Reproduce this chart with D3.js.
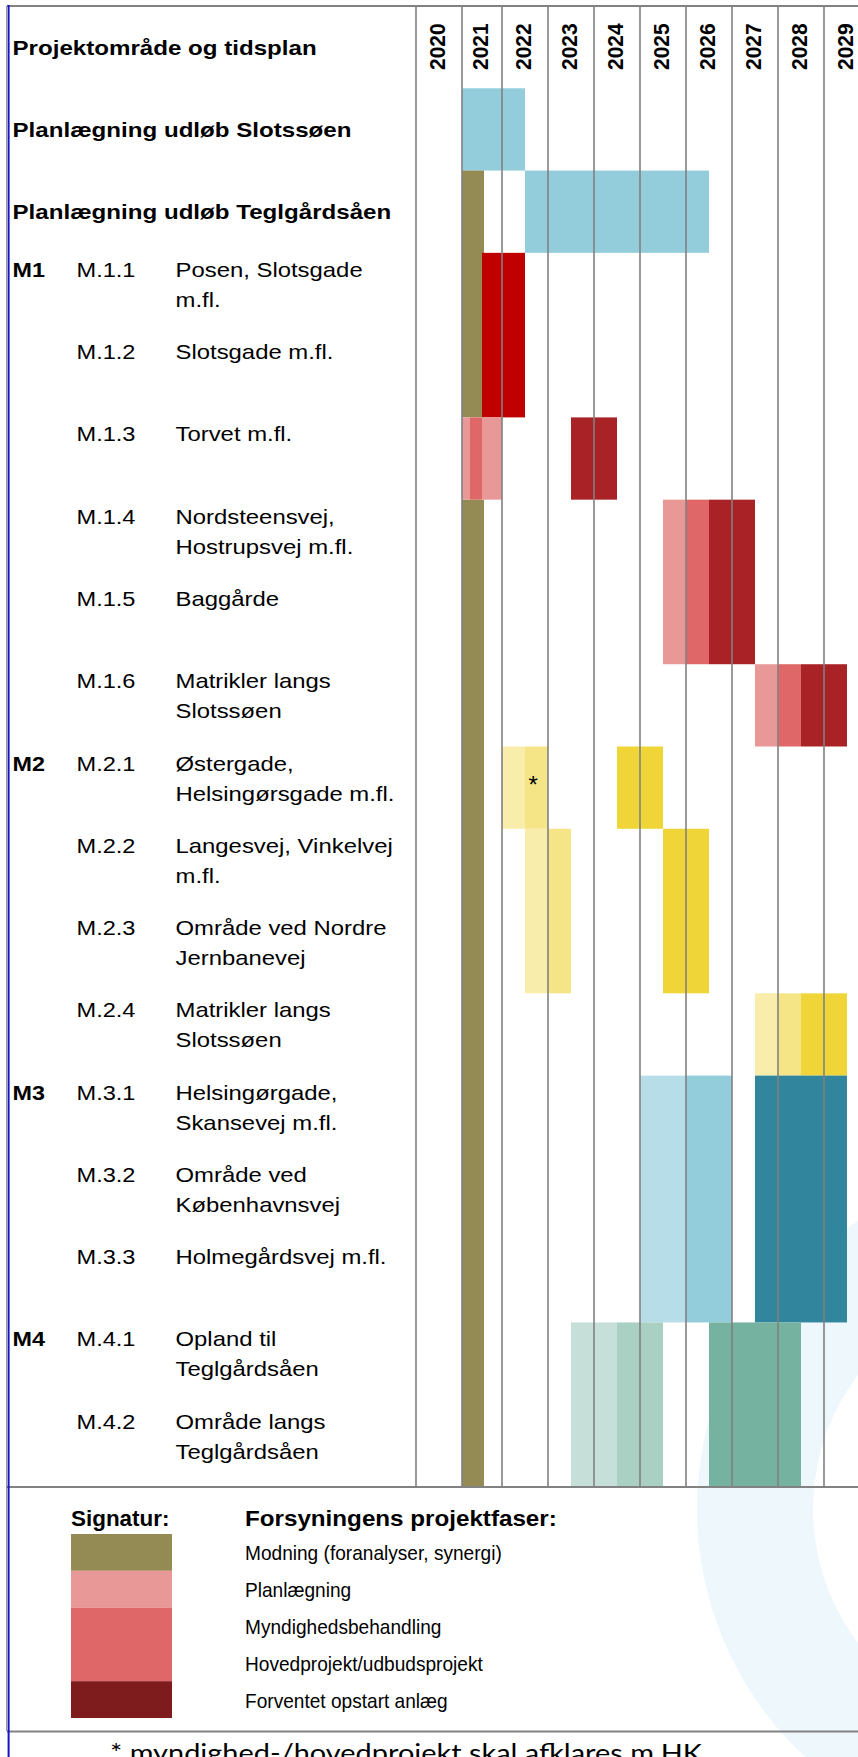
<!DOCTYPE html>
<html><head><meta charset="utf-8">
<script src="https://cdn.jsdelivr.net/npm/d3@7"></script>
<style>body{margin:0;background:#fff}svg{display:block}</style>
</head><body>
<svg id="c" width="858" height="1757"></svg>
<script>
// ---------- data ----------
const years = [2020, 2021, 2022, 2023, 2024, 2025, 2026, 2027, 2028, 2029];
const rowGroups = ["", "", "", "M1", "", "", "", "", "", "M2", "", "", "", "M3", "", "", "M4", ""];
const rowCodes = ["", "", "", "M.1.1", "M.1.2", "M.1.3", "M.1.4", "M.1.5", "M.1.6",
  "M.2.1", "M.2.2", "M.2.3", "M.2.4", "M.3.1", "M.3.2", "M.3.3", "M.4.1", "M.4.2"];
const rowNames = [
  "Projektområde og tidsplan",
  "Planlægning udløb Slotssøen",
  "Planlægning udløb Teglgårdsåen",
  "Posen, Slotsgade|m.fl.",
  "Slotsgade m.fl.",
  "Torvet m.fl.",
  "Nordsteensvej,|Hostrupsvej m.fl.",
  "Baggårde",
  "Matrikler langs|Slotssøen",
  "Østergade,|Helsingørsgade m.fl.",
  "Langesvej, Vinkelvej|m.fl.",
  "Område ved Nordre|Jernbanevej",
  "Matrikler langs|Slotssøen",
  "Helsingørgade,|Skansevej m.fl.",
  "Område ved|Københavnsvej",
  "Holmegårdsvej m.fl.",
  "Opland til|Teglgårdsåen",
  "Område langs|Teglgårdsåen"
];
// [first row, last row, start (year), end (year), phase]
const bars = [
  [1, 1, 2021.0, 2022.5, "blueMid"],
  [2, 2, 2022.5, 2026.5, "blueMid"],
  [2, 4, 2021.0, 2021.55, "olive"],
  [6, 17, 2021.0, 2021.55, "olive"],
  [3, 4, 2021.5, 2022.5, "red"],
  [5, 5, 2021.0, 2021.2, "pinkLight"],
  [5, 5, 2021.2, 2021.5, "pinkMid"],
  [5, 5, 2021.5, 2022.0, "pinkLight"],
  [5, 5, 2023.5, 2024.5, "darkRed"],
  [6, 7, 2025.5, 2026.0, "pinkLight"],
  [6, 7, 2026.0, 2026.5, "pinkMid"],
  [6, 7, 2026.5, 2027.5, "darkRed"],
  [8, 8, 2027.5, 2028.0, "pinkLight"],
  [8, 8, 2028.0, 2028.5, "pinkMid"],
  [8, 8, 2028.5, 2029.5, "darkRed"],
  [9, 9, 2022.0, 2022.5, "yLight"],
  [9, 9, 2022.5, 2023.0, "yMid"],
  [9, 9, 2024.5, 2025.5, "yStrong"],
  [10, 11, 2022.5, 2023.0, "yLight"],
  [10, 11, 2023.0, 2023.5, "yMid"],
  [10, 11, 2025.5, 2026.5, "yStrong"],
  [12, 12, 2027.5, 2028.0, "yLight"],
  [12, 12, 2028.0, 2028.5, "yMid"],
  [12, 12, 2028.5, 2029.5, "yStrong"],
  [13, 15, 2025.0, 2026.0, "bLight"],
  [13, 15, 2026.0, 2027.0, "blueMid"],
  [13, 15, 2027.5, 2029.5, "teal"],
  [16, 17, 2023.5, 2024.5, "gLight"],
  [16, 17, 2024.5, 2025.5, "gMid"],
  [16, 17, 2026.5, 2028.5, "gDark"]
];
const notes = [[9, 2022.68, "*"]];
const legendTitle = "Signatur:";
const legendHeading = "Forsyningens projektfaser:";
const legendLabels = ["Modning (foranalyser, synergi)", "Planlægning", "Myndighedsbehandling",
  "Hovedprojekt/udbudsprojekt", "Forventet opstart anlæg"];
// [first item, last item, phase]
const legendSwatches = [[0, 0, "olive"], [1, 1, "pinkLight"], [2, 3, "pinkMid"], [4, 4, "legendDark"]];
const footnote = "* myndighed-/hovedprojekt skal afklares m.HK";

// ---------- styles ----------
const phaseColors = {
  olive: "#948A54", blueMid: "#93CDDC", bLight: "#B7DDE8", teal: "#31859C",
  red: "#C00000", pinkLight: "#E99898", pinkMid: "#DF6767", darkRed: "#A92226",
  legendDark: "#7E1B1C",
  yLight: "#F8EDAB", yMid: "#F5E586", yStrong: "#F0D538",
  gLight: "#C6E0D9", gMid: "#AACFC3", gDark: "#75B2A0"
};
const FONT = "'Liberation Sans', Arial, sans-serif";

const svg = d3.select("#c");
const W = 858, H = 1757;

// scales
const x = d3.scaleLinear().domain([2020, 2021, 2022, 2030]).range([416, 462, 502, 870]);
const y = d3.scaleBand().domain(d3.range(rowNames.length)).range([6, 1487]).paddingInner(0);
const ly = d3.scaleBand().domain(d3.range(legendLabels.length)).range([1534, 1718]);

// watermark ring
svg.append("path")
  .attr("transform", "translate(1035,1509)")
  .attr("d", d3.arc()({innerRadius: 222, outerRadius: 338, startAngle: 0, endAngle: 2 * Math.PI}))
  .attr("fill", "#EDF7FC");

// bars
svg.append("g").selectAll("rect").data(bars).join("rect")
  .attr("x", d => x(d[2]))
  .attr("width", d => x(d[3]) - x(d[2]))
  .attr("y", d => y(d[0]))
  .attr("height", d => y(d[1]) + y.bandwidth() - y(d[0]))
  .attr("fill", d => phaseColors[d[4]]);

// vertical year grid lines
svg.append("g").selectAll("line").data(years).join("line")
  .attr("x1", d => x(d)).attr("x2", d => x(d))
  .attr("y1", 6).attr("y2", 1487)
  .attr("stroke", "#808080").attr("stroke-width", 1.6);

// horizontal rules and borders
[6, 1487, 1731.5].forEach(yy => {
  svg.append("line").attr("x1", 7).attr("x2", W).attr("y1", yy).attr("y2", yy)
    .attr("stroke", "#828282").attr("stroke-width", 2);
});
svg.append("line").attr("x1", 6.5).attr("x2", 6.5).attr("y1", 6).attr("y2", 1731)
  .attr("stroke", "#9a9a9a").attr("stroke-width", 1);
svg.append("line").attr("x1", 8.6).attr("x2", 8.6).attr("y1", 5).attr("y2", H)
  .attr("stroke", "#1414C8").attr("stroke-width", 2);

// text helper
function txt(g, xx, yy, s, o) {
  return g.append("text")
    .attr("transform", `translate(${xx},${yy}) scale(${o.sx || 1},1)` + (o.rot ? " rotate(-90)" : ""))
    .attr("font-family", o.family || FONT)
    .attr("font-size", o.size)
    .attr("font-weight", o.weight || "normal")
    .attr("fill", "#000")
    .attr("text-anchor", o.anchor || "start")
    .text(s);
}
const tg = svg.append("g");

// year labels (rotated)
years.forEach(yr => {
  const cx = (x(yr) + x(yr + 1)) / 2;
  txt(tg, cx + 5.5, 70, String(yr), {size: 21, weight: "bold", sx: 1.08, rot: true});
});

// row labels
rowNames.forEach((name, i) => {
  const top = y(i);
  if (i < 3) {
    txt(tg, 12.5, top + y.bandwidth() / 2 + 7.5, name, {size: 20.8, weight: "bold", sx: 1.16});
    return;
  }
  if (rowGroups[i]) txt(tg, 12.5, top + 24, rowGroups[i], {size: 20.5, weight: "bold", sx: 1.14});
  txt(tg, 76.5, top + 24, rowCodes[i], {size: 20.5, sx: 1.15});
  name.split("|").forEach((line, k) => {
    txt(tg, 175.5, top + 24 + k * 30, line, {size: 20.5, sx: 1.165});
  });
});

// notes (asterisk)
notes.forEach(n => {
  txt(tg, x(n[1]), y(n[0]) + 46, n[2], {size: 24, anchor: "middle"});
});

// legend
txt(tg, 71, 1526, legendTitle, {size: 22, weight: "bold", sx: 1.02});
txt(tg, 245, 1526, legendHeading, {size: 22, weight: "bold", sx: 1.1});
svg.append("g").selectAll("rect").data(legendSwatches).join("rect")
  .attr("x", 71).attr("width", 101)
  .attr("y", d => ly(d[0]))
  .attr("height", d => ly(d[1]) + ly.bandwidth() - ly(d[0]))
  .attr("fill", d => phaseColors[d[2]]);
legendLabels.forEach((lab, i) => {
  txt(tg, 245, ly(i) + ly.bandwidth() / 2 + 8, lab, {size: 20, sx: 0.955});
});

// footnote
txt(tg, 110, 1762, footnote, {size: 25, family: "Lato, 'Open Sans', sans-serif"})
  .attr("textLength", 592).attr("lengthAdjust", "spacingAndGlyphs");
</script>
</body></html>
